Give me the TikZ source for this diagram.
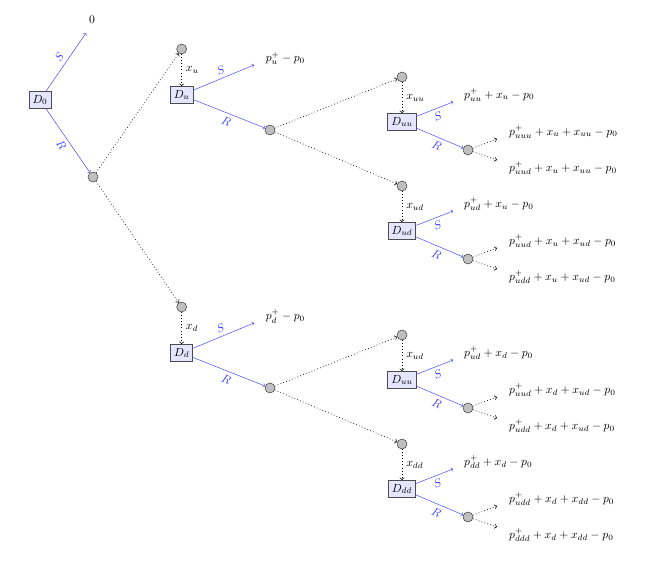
\documentclass[tikz,border=0pt]{standalone}
\usepackage{amsmath}

\begin{document}
\begin{tikzpicture}[>=to,
  decision/.style={draw=black!70, thick, fill=blue!10, inner sep=3pt},
  chance/.style={circle, draw=black!80, fill=black!25, minimum size=0.3cm, inner sep=0pt},
  choice/.style={->, blue!75},
  move/.style={->, dotted, semithick}]
  \useasboundingbox (0,0) rectangle (19.86,17.37);

  % Root decision
  \node[decision] (D0) at (1.20,14.37) {$D_0$};
  \coordinate (S0) at (2.58,16.38);
  \node (zero) at (2.76,16.77) {$0$};
  \node[chance] (C0) at (2.79,12.06) {};
  \draw[choice] (D0) -- (S0) node[midway, sloped, above] {$S$};
  \draw[choice] (D0) -- (C0) node[midway, sloped, below] {$R$};

  % Up branch
  \node[chance] (Cu) at (5.45,15.90) {};
  \node[decision] (Du) at (5.45,14.52) {$D_u$};
  \coordinate (Su) at (7.62,15.42);
  \node[anchor=west] (Lu) at (7.85,15.62) {$p^+_u - p_0$};
  \node[chance] (Ru) at (8.10,13.47) {};
  \draw[move] (C0) -- (Cu);
  \draw[move] (Cu) -- (Du) node[midway, right] {$x_u$};
  \draw[choice] (Du) -- (Su) node[midway, sloped, above] {$S$};
  \draw[choice] (Du) -- (Ru) node[midway, sloped, below] {$R$};

  % Up-up
  \node[chance] (Cuu) at (12.06,15.06) {};
  \node[decision] (Duu) at (12.06,13.71) {$D_{uu}$};
  \coordinate (Suu) at (13.59,14.31);
  \node[anchor=west] (Luu) at (13.80,14.52) {$p^+_{uu} + x_u - p_0$};
  \node[chance] (Ruu) at (14.04,12.87) {};
  \coordinate (Ruu1) at (14.91,13.20);
  \coordinate (Ruu2) at (14.91,12.57);
  \node[anchor=west] (Luuu) at (15.15,13.41) {$p^+_{uuu} + x_u + x_{uu} - p_0$};
  \node[anchor=west] (Luud) at (15.15,12.33) {$p^+_{uud} + x_u + x_{uu} - p_0$};
  \draw[move] (Ru) -- (Cuu);
  \draw[move] (Cuu) -- (Duu) node[midway, right] {$x_{uu}$};
  \draw[choice] (Duu) -- (Suu) node[midway, sloped, below] {$S$};
  \draw[choice] (Duu) -- (Ruu) node[midway, sloped, below] {$R$};
  \draw[move] (Ruu) -- (Ruu1);
  \draw[move] (Ruu) -- (Ruu2);

  % Up-down
  \node[chance] (Cud) at (12.06,11.79) {};
  \node[decision] (Dud) at (12.06,10.44) {$D_{ud}$};
  \coordinate (Sud) at (13.59,11.04);
  \node[anchor=west] (Lud) at (13.80,11.25) {$p^+_{ud} + x_u - p_0$};
  \node[chance] (Rud) at (14.04,9.60) {};
  \coordinate (Rud1) at (14.91,9.93);
  \coordinate (Rud2) at (14.91,9.30);
  \node[anchor=west] (Luud) at (15.15,10.14) {$p^+_{uud} + x_u + x_{ud} - p_0$};
  \node[anchor=west] (Ludd) at (15.15,9.06) {$p^+_{udd} + x_u + x_{ud} - p_0$};
  \draw[move] (Ru) -- (Cud);
  \draw[move] (Cud) -- (Dud) node[midway, right] {$x_{ud}$};
  \draw[choice] (Dud) -- (Sud) node[midway, sloped, below] {$S$};
  \draw[choice] (Dud) -- (Rud) node[midway, sloped, below] {$R$};
  \draw[move] (Rud) -- (Rud1);
  \draw[move] (Rud) -- (Rud2);

  % Down branch
  \node[chance] (Cd) at (5.45,8.16) {};
  \node[decision] (Dd) at (5.45,6.78) {$D_d$};
  \coordinate (Sd) at (7.62,7.68);
  \node[anchor=west] (Ld) at (7.85,7.88) {$p^+_d - p_0$};
  \node[chance] (Rd) at (8.10,5.73) {};
  \draw[move] (C0) -- (Cd);
  \draw[move] (Cd) -- (Dd) node[midway, right] {$x_d$};
  \draw[choice] (Dd) -- (Sd) node[midway, sloped, above] {$S$};
  \draw[choice] (Dd) -- (Rd) node[midway, sloped, below] {$R$};

  % Down-up
  \node[chance] (Cdu) at (12.06,7.32) {};
  \node[decision] (Ddu) at (12.06,5.97) {$D_{uu}$};
  \coordinate (Sdu) at (13.59,6.57);
  \node[anchor=west] (Ldu) at (13.80,6.78) {$p^+_{ud} + x_d - p_0$};
  \node[chance] (Rdu) at (14.04,5.13) {};
  \coordinate (Rdu1) at (14.91,5.46);
  \coordinate (Rdu2) at (14.91,4.83);
  \node[anchor=west] (Lduu) at (15.15,5.67) {$p^+_{uud} + x_d + x_{ud} - p_0$};
  \node[anchor=west] (Ldud) at (15.15,4.59) {$p^+_{udd} + x_d + x_{ud} - p_0$};
  \draw[move] (Rd) -- (Cdu);
  \draw[move] (Cdu) -- (Ddu) node[midway, right] {$x_{ud}$};
  \draw[choice] (Ddu) -- (Sdu) node[midway, sloped, below] {$S$};
  \draw[choice] (Ddu) -- (Rdu) node[midway, sloped, below] {$R$};
  \draw[move] (Rdu) -- (Rdu1);
  \draw[move] (Rdu) -- (Rdu2);

  % Down-down
  \node[chance] (Cdd) at (12.06,4.05) {};
  \node[decision] (Ddd) at (12.06,2.70) {$D_{dd}$};
  \coordinate (Sdd) at (13.59,3.30);
  \node[anchor=west] (Ldd) at (13.80,3.51) {$p^+_{dd} + x_d - p_0$};
  \node[chance] (Rdd) at (14.04,1.86) {};
  \coordinate (Rdd1) at (14.91,2.19);
  \coordinate (Rdd2) at (14.91,1.56);
  \node[anchor=west] (Lddu) at (15.15,2.40) {$p^+_{udd} + x_d + x_{dd} - p_0$};
  \node[anchor=west] (Lddd) at (15.15,1.32) {$p^+_{ddd} + x_d + x_{dd} - p_0$};
  \draw[move] (Rd) -- (Cdd);
  \draw[move] (Cdd) -- (Ddd) node[midway, right] {$x_{dd}$};
  \draw[choice] (Ddd) -- (Sdd) node[midway, sloped, below] {$S$};
  \draw[choice] (Ddd) -- (Rdd) node[midway, sloped, below] {$R$};
  \draw[move] (Rdd) -- (Rdd1);
  \draw[move] (Rdd) -- (Rdd2);
\end{tikzpicture}
\end{document}
